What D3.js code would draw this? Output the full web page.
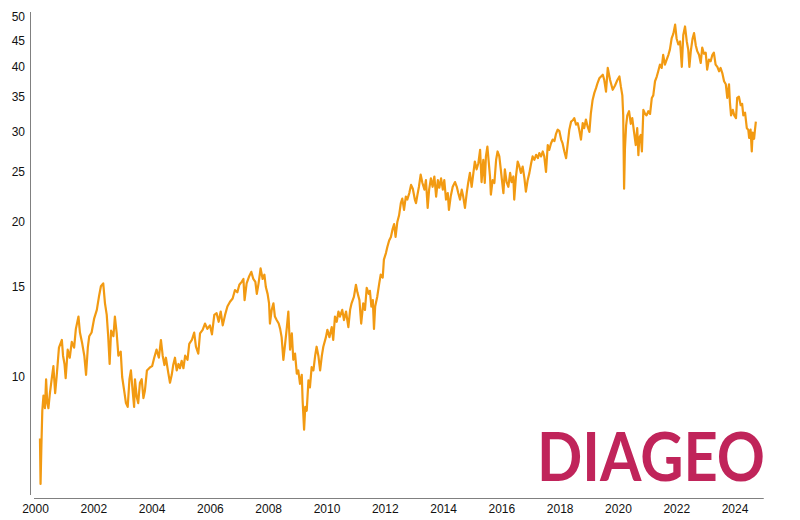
<!DOCTYPE html>
<html>
<head>
<meta charset="utf-8">
<script src="https://cdn.jsdelivr.net/npm/d3@7"></script>
<style>
  html, body { margin: 0; padding: 0; background: #fff; }
  svg { display: block; }
  text { font-family: "Liberation Sans", Arial, sans-serif; }
</style>
</head>
<body>
<svg id="chart" width="800" height="520"></svg>
<script>
// ---- data (decimal year, share price) ----
const yearFrac = [
  2000.17,2000.19,2000.22,2000.25,2000.29,2000.34,2000.38,2000.42,2000.46,2000.51,2000.57,2000.63,2000.69,2000.74,2000.82,2000.92,2000.96,
  2001.01,2001.05,2001.12,2001.19,2001.26,2001.34,2001.40,2001.49,2001.54,2001.62,2001.69,2001.75,2001.81,2001.86,2001.94,
  2002.03,2002.12,2002.20,2002.26,2002.34,2002.40,2002.46,2002.51,2002.56,2002.61,2002.69,2002.74,2002.80,2002.86,2002.94,2002.99,
  2003.06,2003.12,2003.18,2003.24,2003.29,2003.35,2003.40,2003.43,2003.49,2003.54,2003.60,2003.66,2003.72,2003.77,2003.84,2003.95,
  2004.02,2004.09,2004.17,2004.25,2004.32,2004.38,2004.44,2004.49,2004.57,2004.63,2004.69,2004.74,2004.80,2004.86,2004.92,2004.97,
  2005.03,2005.09,2005.15,2005.23,2005.29,2005.38,2005.46,2005.52,2005.60,2005.66,2005.75,2005.83,2005.91,
  2006.00,2006.07,2006.15,2006.23,2006.30,2006.37,2006.44,2006.52,2006.60,2006.69,2006.78,2006.86,2006.94,
  2007.01,2007.09,2007.15,2007.19,2007.26,2007.34,2007.42,2007.49,2007.56,2007.61,2007.67,2007.74,2007.81,2007.87,2007.92,2007.98,
  2008.03,2008.06,2008.12,2008.18,2008.23,2008.29,2008.36,2008.41,2008.46,2008.52,2008.58,2008.64,2008.69,2008.75,2008.81,2008.86,2008.92,2008.98,
  2009.03,2009.09,2009.15,2009.18,2009.23,2009.27,2009.32,2009.38,2009.43,2009.49,2009.55,2009.61,2009.66,2009.72,2009.78,2009.84,2009.89,2009.98,
  2010.03,2010.10,2010.18,2010.23,2010.29,2010.35,2010.41,2010.46,2010.54,2010.60,2010.67,2010.75,2010.81,2010.86,2010.94,
  2011.01,2011.06,2011.13,2011.19,2011.26,2011.32,2011.38,2011.45,2011.49,2011.54,2011.59,2011.63,2011.67,2011.74,2011.81,2011.86,2011.93,2011.97,
  2012.04,2012.09,2012.15,2012.21,2012.27,2012.32,2012.37,2012.43,2012.49,2012.55,2012.60,2012.66,2012.72,2012.77,2012.84,2012.90,2012.96,
  2013.03,2013.07,2013.12,2013.17,2013.23,2013.29,2013.36,2013.41,2013.47,2013.52,2013.58,2013.64,2013.70,2013.76,2013.82,2013.87,2013.93,2013.99,
  2014.04,2014.10,2014.16,2014.20,2014.26,2014.33,2014.41,2014.47,2014.52,2014.58,2014.64,2014.69,2014.75,2014.81,2014.86,2014.92,2014.98,
  2015.04,2015.09,2015.15,2015.21,2015.27,2015.32,2015.38,2015.43,2015.47,2015.52,2015.56,2015.61,2015.64,2015.70,2015.76,2015.82,2015.87,2015.93,2015.98,
  2016.02,2016.07,2016.12,2016.18,2016.24,2016.30,2016.35,2016.41,2016.44,2016.50,2016.56,2016.61,2016.67,2016.73,2016.79,2016.84,2016.90,2016.96,
  2017.02,2017.07,2017.13,2017.19,2017.25,2017.30,2017.36,2017.42,2017.47,2017.53,2017.59,2017.64,2017.70,2017.76,2017.82,2017.87,2017.93,2017.99,
  2018.05,2018.10,2018.16,2018.22,2018.27,2018.33,2018.39,2018.45,2018.50,2018.56,2018.62,2018.67,2018.73,2018.79,2018.84,2018.90,2018.96,
  2019.02,2019.07,2019.13,2019.19,2019.25,2019.30,2019.36,2019.42,2019.48,2019.53,2019.59,2019.65,2019.73,2019.82,2019.90,2019.98,
  2020.05,2020.10,2020.15,2020.18,2020.21,2020.24,2020.28,2020.32,2020.38,2020.44,2020.49,2020.55,2020.61,2020.66,2020.70,2020.73,2020.78,2020.82,2020.87,2020.93,2020.98,
  2021.04,2021.10,2021.16,2021.21,2021.27,2021.33,2021.38,2021.44,2021.50,2021.55,2021.61,2021.67,2021.73,2021.78,2021.84,2021.90,2021.96,
  2022.01,2022.07,2022.13,2022.19,2022.24,2022.30,2022.36,2022.41,2022.45,2022.50,2022.56,2022.61,2022.67,2022.72,2022.78,2022.84,2022.89,2022.95,
  2023.01,2023.06,2023.12,2023.18,2023.24,2023.29,2023.35,2023.41,2023.47,2023.52,2023.58,2023.64,2023.70,2023.75,2023.81,2023.84,2023.88,2023.94,2023.99,
  2024.05,2024.09,2024.15,2024.21,2024.26,2024.30,2024.36,2024.42,2024.47,2024.50,2024.55,2024.59,2024.62,2024.67,2024.70,2024.73
];
const close = [
  7.6,6.2,7.4,8.6,9.2,8.7,9.9,8.9,8.7,9.3,9.9,10.5,9.3,10.0,11.4,11.8,11.0,
  10.6,9.95,11.3,10.9,11.7,11.4,12.4,13.1,12.2,11.6,11.0,10.1,11.4,12.0,12.2,
  13.0,13.5,14.4,15.0,15.2,13.9,13.2,12.0,10.6,12.3,12.0,13.1,12.2,11.0,11.2,10.0,
  9.4,8.9,8.75,9.9,10.3,9.4,8.75,9.9,9.15,8.9,9.75,9.9,9.1,9.4,10.3,10.45,
  10.5,10.9,11.3,10.9,11.8,11.0,10.55,10.9,10.2,9.75,10.1,10.55,10.9,10.3,10.6,10.4,
  10.75,10.4,11.0,10.8,11.6,11.8,12.2,11.45,11.1,12.15,12.35,12.7,12.4,
  12.6,12.1,13.2,13.3,12.8,13.4,12.6,13.2,13.7,14.0,14.2,14.75,14.6,
  15.1,15.3,15.5,14.1,15.2,15.65,16.0,15.5,15.3,14.5,15.2,16.25,15.5,15.8,14.95,14.5,
  13.9,12.7,13.5,13.9,13.1,12.9,12.7,12.4,11.95,10.8,11.6,12.5,13.4,11.3,12.15,10.8,11.1,10.15,
  10.3,9.7,10.1,9.0,7.9,8.75,8.6,9.85,9.55,10.45,10.3,11.0,11.45,11.0,10.3,11.0,11.45,11.95,
  12.35,11.95,12.5,11.8,13.1,12.8,13.4,13.1,13.5,12.9,13.4,12.5,13.5,13.9,14.3,
  15.1,14.6,14.1,12.7,13.9,13.5,14.9,14.5,14.7,13.7,14.1,12.4,13.7,14.3,15.2,15.8,15.6,16.9,
  17.4,17.9,18.4,18.7,19.4,19.8,18.7,20.0,20.6,21.75,22.2,21.1,22.4,22.1,22.75,23.6,23.2,
  22.1,21.75,22.6,23.4,24.7,23.8,23.1,24.1,21.3,23.1,24.3,23.4,24.5,22.4,24.1,23.3,24.3,23.1,
  24.1,22.1,22.75,21.1,22.4,23.4,23.9,23.4,22.75,22.1,23.1,22.4,21.3,22.75,23.8,24.9,23.4,
  24.9,26.2,25.3,26.0,27.6,23.9,26.4,23.8,26.8,28.0,26.4,24.5,22.6,24.1,23.8,26.4,27.4,26.8,25.3,
  24.1,22.75,25.3,23.9,23.4,24.9,23.9,24.5,22.1,24.5,26.2,25.7,24.9,25.6,24.3,22.9,24.1,24.9,
  26.0,26.8,26.4,27.0,26.6,27.2,26.8,27.4,26.8,25.0,28.2,27.6,28.4,28.9,28.7,29.6,30.2,30.0,
  28.9,28.4,27.4,26.6,28.2,30.2,31.3,31.5,31.8,30.9,31.1,30.2,28.9,31.1,30.4,31.6,30.6,
  29.9,32.5,34.5,35.6,36.4,37.2,38.0,38.3,38.6,37.7,35.8,39.8,37.7,36.1,36.8,37.7,
  38.3,36.6,35.2,32.2,23.2,27.8,30.8,32.2,32.8,31.0,31.8,29.9,28.2,30.4,26.96,29.1,29.5,27.4,33.0,32.4,32.2,
  32.8,32.4,34.8,35.2,37.5,38.3,39.2,40.4,39.8,42.2,40.4,41.3,42.2,43.2,45.4,46.4,48.3,
  45.4,44.2,44.8,40.0,46.1,47.9,44.8,43.2,40.0,43.0,45.4,46.5,44.0,42.9,42.2,40.7,43.6,42.4,
  42.6,39.5,41.3,41.0,42.2,42.6,40.4,40.0,39.2,39.8,38.9,37.5,37.0,34.8,37.0,34.2,32.2,33.0,32.2,
  31.8,34.8,35.0,33.7,33.9,32.2,32.6,30.4,30.2,29.1,30.2,27.4,29.8,29.0,30.2,31.3
];
const xTickYears = [2000,2002,2004,2006,2008,2010,2012,2014,2016,2018,2020,2022,2024];
const yTickValues = [10,15,20,25,30,35,40,45,50];
const logoText = "DIAGEO";

// ---- helpers ----
function toDate(yf) {
  const y = Math.floor(yf);
  const start = new Date(y, 0, 1).getTime();
  const end = new Date(y + 1, 0, 1).getTime();
  return new Date(start + (yf - y) * (end - start));
}
const series = yearFrac.map((t, i) => ({ date: toDate(t), value: close[i] }));

const svg = d3.select("#chart");

const x = d3.scaleTime()
  .domain([new Date(2000, 0, 1), new Date(2025, 0, 1)])
  .range([35, 763.75]);

const y = d3.scaleLog()
  .domain([5.85, 51.1])
  .range([497, 12]);

// logo (behind the line)
svg.append("text")
  .attr("x", 537)
  .attr("y", 481)
  .attr("textLength", 228)
  .attr("lengthAdjust", "spacingAndGlyphs")
  .style("font-family", "Lato, 'Liberation Sans', sans-serif")
  .style("font-weight", 700)
  .style("font-size", "66px")
  .attr("fill", "#C0245A")
  .text(logoText);

// y axis
const yAxis = d3.axisLeft(y)
  .tickValues(yTickValues)
  .tickFormat(d3.format("d"))
  .tickSize(0)
  .tickPadding(5);
const gy = svg.append("g").attr("transform", "translate(30,0)").call(yAxis);
gy.select(".domain").remove();
gy.selectAll("text").style("font-size", "12px").attr("fill", "#111")
  .style("font-family", "'Liberation Sans', Arial, sans-serif");
svg.append("line")
  .attr("x1", 30.5).attr("x2", 30.5)
  .attr("y1", 12).attr("y2", 495)
  .attr("stroke", "#808080").attr("stroke-width", 1);

// x axis
const xAxis = d3.axisBottom(x)
  .tickValues(xTickYears.map(yr => new Date(yr, 0, 1)))
  .tickFormat(d3.timeFormat("%Y"))
  .tickSize(0)
  .tickPadding(6);
const gx = svg.append("g").attr("transform", "translate(0,498)").call(xAxis);
gx.select(".domain").remove();
gx.selectAll("text").style("font-size", "12px").attr("fill", "#111")
  .style("font-family", "'Liberation Sans', Arial, sans-serif");
svg.append("line")
  .attr("x1", 34).attr("x2", 763.75)
  .attr("y1", 498.5).attr("y2", 498.5)
  .attr("stroke", "#808080").attr("stroke-width", 1);

// price line
const line = d3.line()
  .x(d => x(d.date))
  .y(d => y(d.value));

svg.append("path")
  .datum(series)
  .attr("d", line)
  .attr("fill", "none")
  .attr("stroke", "#F29A12")
  .attr("stroke-width", 2.2)
  .attr("stroke-linejoin", "round");
</script>
</body>
</html>
